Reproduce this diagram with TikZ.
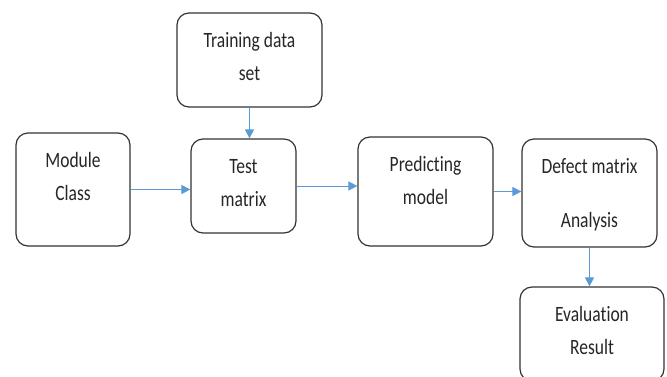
\documentclass[tikz,border=0pt]{standalone}
\usepackage{fontspec}
\setmainfont{Carlito}[Ligatures={NoCommon}]
\usetikzlibrary{arrows.meta}
\definecolor{flowblue}{RGB}{91,155,213}
\newcommand{\boxfont}{\fontsize{17.5}{26}\selectfont}
\newcommand{\boxtext}[2]{%
  \parbox[c][#1][t]{100pt}{\centering\vspace*{12pt}%
  \scalebox{1}[1.25]{\boxfont\begin{tabular}{@{}c@{}}#2\end{tabular}}}}

\begin{document}
\begin{tikzpicture}[x=1pt, y=-1pt,
    stage/.style={rectangle, rounded corners=12pt, draw=black!80, line width=1.2pt, inner sep=0pt, text=black!85},
    flow/.style={draw=flowblue, line width=0.9pt, -{Triangle[length=9pt,width=9pt]}}]
    \useasboundingbox (0,0) rectangle (667,376);
    \node[stage, minimum width=145pt] (train) at (249.5,60) {\boxtext{94pt}{Training data\\set}};
    \node[stage, minimum width=114pt] (module) at (73,189.5) {\boxtext{113pt}{Module\\Class}};
    \node[stage, minimum width=105pt] (test) at (243.5,186) {\boxtext{94pt}{Test\\matrix}};
    \node[stage, minimum width=135pt] (predict) at (425.5,191.5) {\boxtext{109pt}{Predicting\\model}};
    \node[stage, minimum width=135pt] (defect) at (589.5,193) {\boxtext{108pt}{Defect matrix\\[17pt]Analysis}};
    \node[stage, minimum width=144pt] (eval) at (592,334) {\boxtext{94pt}{Evaluation\\Result}};
    \draw[flow] (train.south) -- (train.south |- test.north);
    \draw[flow] (module.east) -- (module.east -| test.west);
    \draw[flow] (test.east) -- (test.east -| predict.west);
    \draw[flow] (predict.east) -- (predict.east -| defect.west);
    \draw[flow] (defect.south) -- (defect.south |- eval.north);
\end{tikzpicture}
\end{document}
